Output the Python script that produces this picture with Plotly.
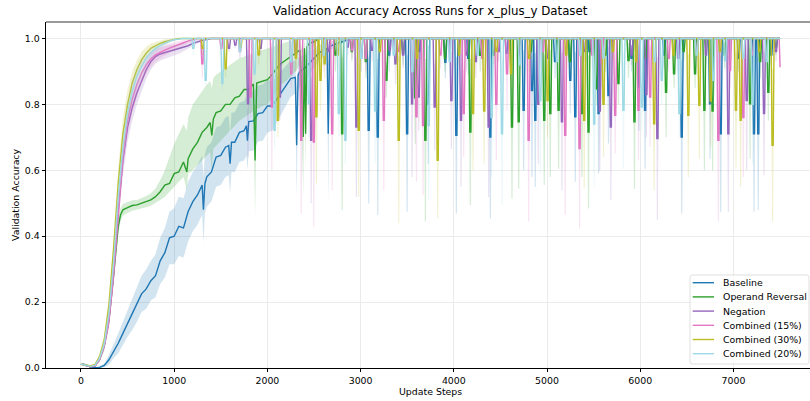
import plotly.graph_objects as go

# ---------------------------------------------------------------- figure geometry
FIG_W, FIG_H = 810, 401
MARGIN = dict(l=46, r=0, t=22, b=33)
X_RANGE = [-375, 7821]
Y_RANGE = [0.0, 1.05]
LAST_STEP = 7500
SPIKE_RAMP = 10   # steps spent falling / recovering
SPIKE_FLAT = 12   # steps spent at the bottom of a collapse

X_TICKS = [0, 1000, 2000, 3000, 4000, 5000, 6000, 7000]
Y_TICKS = [0.0, 0.2, 0.4, 0.6, 0.8, 1.0]
Y_TICK_TEXT = ["0.0", "0.2", "0.4", "0.6", "0.8", "1.0"]

TITLE = "Validation Accuracy Across Runs for x_plus_y Dataset"
X_LABEL = "Update Steps"
Y_LABEL = "Validation Accuracy"

SERIES_NAMES = ["Baseline", "Operand Reversal", "Negation",
                "Combined (15%)", "Combined (30%)", "Combined (20%)"]
SERIES_COLORS = ["#1f77b4", "#2ca02c", "#9467bd", "#e377c2", "#bcbd22", "#9edae5"]

# ---------------------------------------------------------------- Baseline
baseline_steps = [0, 50, 100, 150, 200, 250, 300, 350, 400, 450,
                  500, 550, 600, 650, 700, 750, 800, 850, 900, 950,
                  1000, 1050, 1100, 1150, 1200, 1250, 1300, 1314, 1330, 1350,
                  1400, 1450, 1500, 1550, 1585, 1600, 1615, 1650, 1700, 1750,
                  1775, 1786, 1800, 1850, 1900, 1950, 2000, 2050, 2100, 2150,
                  2200, 2250, 2300, 2314, 2330, 2350, 2400, 2450, 2500, 2550,
                  2600, 2640, 2653, 2668, 2700, 2750, 2800, 2850, 2900]
baseline_mean = [0.012, 0.010, 0.003, 0.001, 0.002, 0.008, 0.025, 0.050, 0.075, 0.105,
                 0.135, 0.160, 0.190, 0.225, 0.240, 0.265, 0.280, 0.325, 0.350, 0.395,
                 0.400, 0.430, 0.425, 0.475, 0.505, 0.525, 0.555, 0.480, 0.560, 0.580,
                 0.595, 0.640, 0.645, 0.670, 0.675, 0.620, 0.685, 0.685, 0.715, 0.720,
                 0.735, 0.690, 0.748, 0.750, 0.772, 0.775, 0.795, 0.795, 0.815, 0.835,
                 0.855, 0.878, 0.882, 0.676, 0.890, 0.900, 0.910, 0.925, 0.940, 0.955,
                 0.965, 0.970, 0.711, 0.975, 0.980, 0.985, 0.990, 0.995, 1.000]
baseline_std = [0.003, 0.003, 0.002, 0.002, 0.003, 0.006, 0.015, 0.020, 0.030, 0.035,
                0.040, 0.045, 0.050, 0.055, 0.060, 0.060, 0.065, 0.070, 0.075, 0.080,
                0.085, 0.090, 0.090, 0.090, 0.090, 0.090, 0.090, 0.100, 0.090, 0.090,
                0.090, 0.090, 0.090, 0.090, 0.090, 0.090, 0.090, 0.090, 0.090, 0.090,
                0.090, 0.090, 0.090, 0.090, 0.085, 0.085, 0.080, 0.075, 0.070, 0.065,
                0.060, 0.055, 0.050, 0.160, 0.050, 0.045, 0.040, 0.035, 0.030, 0.025,
                0.020, 0.018, 0.210, 0.015, 0.012, 0.010, 0.006, 0.003, 0.000]
baseline_spike_steps = [3081, 3178, 3300, 3493, 3620, 3720, 3903, 4021, 4150, 4386,
                        4560, 4743, 4832, 4868, 5080, 5243, 5297, 5450, 5547, 5653,
                        5900, 5980, 6046, 6250, 6439, 6600, 6743, 6857, 7050, 7214,
                        7260, 7400]
baseline_spike_mean = [0.721, 0.701, 0.950, 0.711, 0.960, 0.800, 0.928, 0.706, 0.940, 0.701,
                       0.955, 0.782, 0.842, 0.752, 0.930, 0.873, 0.762, 0.960, 0.772, 0.827,
                       0.940, 0.850, 0.782, 0.950, 0.701, 0.965, 0.802, 0.711, 0.940, 0.711,
                       0.711, 0.950]
baseline_spike_low = [0.499, 0.464, 0.900, 0.474, 0.920, 0.620, 0.880, 0.469, 0.890, 0.454,
                      0.920, 0.600, 0.580, 0.549, 0.880, 0.772, 0.565, 0.930, 0.590, 0.681,
                      0.900, 0.720, 0.605, 0.910, 0.469, 0.940, 0.635, 0.474, 0.900, 0.474,
                      0.479, 0.920]

# ---------------------------------------------------------------- Operand Reversal
reversal_steps = [0, 50, 100, 150, 200, 250, 300, 350, 400, 425,
                  450, 500, 550, 600, 650, 700, 750, 800, 850, 900,
                  950, 1000, 1050, 1100, 1136, 1150, 1200, 1250, 1300, 1350,
                  1386, 1404, 1420, 1450, 1500, 1550, 1600, 1650, 1700, 1750,
                  1800, 1850, 1868, 1885, 1950, 2000, 2050, 2100, 2150, 2200,
                  2250, 2300, 2350, 2385, 2397, 2410, 2425, 2450, 2500, 2550]
reversal_mean = [0.012, 0.009, 0.004, 0.006, 0.026, 0.068, 0.145, 0.280, 0.430, 0.465,
                 0.480, 0.487, 0.493, 0.495, 0.500, 0.505, 0.510, 0.520, 0.535, 0.555,
                 0.560, 0.590, 0.595, 0.625, 0.595, 0.635, 0.665, 0.685, 0.715, 0.730,
                 0.745, 0.706, 0.755, 0.775, 0.780, 0.800, 0.800, 0.820, 0.825, 0.845,
                 0.845, 0.862, 0.630, 0.865, 0.870, 0.875, 0.890, 0.910, 0.925, 0.935,
                 0.945, 0.955, 0.965, 0.701, 0.970, 0.711, 0.975, 0.985, 0.990, 1.000]
reversal_low = [0.009, 0.006, 0.002, 0.003, 0.018, 0.052, 0.125, 0.255, 0.405, 0.445,
                0.462, 0.470, 0.477, 0.480, 0.485, 0.488, 0.492, 0.500, 0.510, 0.520,
                0.535, 0.550, 0.565, 0.580, 0.540, 0.590, 0.600, 0.615, 0.630, 0.645,
                0.655, 0.600, 0.665, 0.675, 0.690, 0.705, 0.720, 0.735, 0.750, 0.760,
                0.770, 0.780, 0.460, 0.785, 0.795, 0.800, 0.820, 0.840, 0.860, 0.870,
                0.885, 0.900, 0.920, 0.519, 0.930, 0.600, 0.945, 0.960, 0.975, 1.000]
reversal_high = [0.015, 0.012, 0.006, 0.009, 0.034, 0.084, 0.165, 0.305, 0.455, 0.485,
                 0.498, 0.504, 0.509, 0.510, 0.515, 0.522, 0.530, 0.545, 0.570, 0.600,
                 0.640, 0.680, 0.710, 0.740, 0.720, 0.760, 0.800, 0.820, 0.840, 0.860,
                 0.870, 0.850, 0.880, 0.890, 0.900, 0.910, 0.920, 0.930, 0.940, 0.945,
                 0.950, 0.955, 0.900, 0.960, 0.965, 0.970, 0.975, 0.980, 0.985, 0.990,
                 0.993, 0.996, 0.998, 0.950, 0.999, 0.960, 1.000, 1.000, 1.000, 1.000]
reversal_spike_steps = [2724, 2796, 2900, 3050, 3271, 3450, 3580, 3689, 3900, 4171,
                        4278, 4420, 4618, 4690, 4820, 4964, 5029, 5118, 5240, 5368,
                        5439, 5521, 5620, 5760, 5868, 5932, 6050, 6271, 6357, 6460,
                        6582, 6682, 6770, 6900, 7172, 7280, 7368, 7450]
reversal_spike_mean = [0.950, 0.711, 0.960, 0.930, 0.873, 0.955, 0.820, 0.691, 0.940, 0.716,
                       0.949, 0.950, 0.731, 0.747, 0.960, 0.752, 0.772, 0.782, 0.930, 0.772,
                       0.716, 0.847, 0.950, 0.863, 0.933, 0.747, 0.940, 0.837, 0.893, 0.960,
                       0.893, 0.782, 0.780, 0.950, 0.802, 0.930, 0.837, 0.974]
reversal_spike_low = [0.900, 0.479, 0.930, 0.880, 0.820, 0.920, 0.680, 0.444, 0.900, 0.494,
                      0.900, 0.920, 0.514, 0.544, 0.930, 0.555, 0.580, 0.605, 0.890, 0.580,
                      0.484, 0.800, 0.900, 0.800, 0.880, 0.544, 0.910, 0.700, 0.850, 0.930,
                      0.850, 0.600, 0.600, 0.910, 0.635, 0.880, 0.750, 0.950]

# ---------------------------------------------------------------- Negation
negation_steps = [0, 50, 100, 150, 200, 250, 300, 350, 400, 450,
                  500, 550, 600, 650, 700, 750, 800, 850, 900, 950,
                  1000, 1050, 1100, 1150, 1200, 1250, 1300, 1350, 1400]
negation_mean = [0.012, 0.009, 0.004, 0.006, 0.027, 0.070, 0.150, 0.290, 0.480, 0.630,
                 0.730, 0.790, 0.835, 0.870, 0.905, 0.930, 0.945, 0.953, 0.957, 0.962,
                 0.965, 0.968, 0.973, 0.978, 0.985, 0.990, 0.994, 0.997, 1.000]
negation_std = [0.003, 0.003, 0.002, 0.002, 0.006, 0.012, 0.020, 0.030, 0.040, 0.045,
                0.045, 0.040, 0.035, 0.030, 0.028, 0.025, 0.022, 0.020, 0.020, 0.018,
                0.016, 0.014, 0.012, 0.010, 0.008, 0.006, 0.004, 0.002, 0.000]
negation_spike_steps = [1582, 1650, 1786, 1921, 2128, 2300, 2464, 2650, 2856, 2949,
                        3000, 3117, 3307, 3368, 3450, 3546, 3618, 3789, 3968, 4071,
                        4128, 4230, 4368, 4475, 4700, 4900, 5000, 5154, 5400, 5560,
                        5678, 5900, 6060, 6178, 6400, 6700, 6939, 7136, 7322, 7450]
negation_spike_mean = [0.970, 0.980, 0.802, 0.970, 0.822, 0.950, 0.691, 0.960, 0.974, 0.731,
                       0.940, 0.964, 0.964, 0.923, 0.950, 0.802, 0.822, 0.792, 0.812, 0.752,
                       0.950, 0.930, 0.731, 0.960, 0.950, 0.800, 0.940, 0.747, 0.960, 0.780,
                       0.731, 0.950, 0.830, 0.696, 0.940, 0.950, 0.711, 0.812, 0.772, 0.960]
negation_spike_low = [0.960, 0.970, 0.640, 0.950, 0.750, 0.900, 0.500, 0.920, 0.950, 0.519,
                      0.900, 0.930, 0.940, 0.860, 0.910, 0.580, 0.720, 0.660, 0.665, 0.549,
                      0.900, 0.880, 0.519, 0.930, 0.920, 0.620, 0.900, 0.539, 0.930, 0.600,
                      0.509, 0.920, 0.700, 0.449, 0.900, 0.920, 0.474, 0.600, 0.585, 0.930]

# ---------------------------------------------------------------- Combined (15%)
comb15_steps = [0, 50, 100, 150, 200, 250, 300, 350, 400, 450,
                500, 550, 600, 650, 700, 750, 800, 850, 900, 950,
                1000, 1050, 1100, 1150, 1200, 1250]
comb15_mean = [0.012, 0.009, 0.004, 0.006, 0.025, 0.066, 0.140, 0.280, 0.470, 0.640,
               0.750, 0.815, 0.860, 0.895, 0.920, 0.938, 0.950, 0.958, 0.965, 0.971,
               0.977, 0.982, 0.987, 0.992, 0.996, 1.000]
comb15_std = [0.003, 0.003, 0.002, 0.002, 0.006, 0.012, 0.020, 0.030, 0.040, 0.045,
              0.045, 0.040, 0.038, 0.032, 0.028, 0.024, 0.020, 0.018, 0.016, 0.014,
              0.012, 0.010, 0.008, 0.006, 0.004, 0.000]
comb15_spike_steps = [1296, 1500, 1700, 1814, 2042, 2250, 2357, 2492, 2600, 2689,
                      2903, 3050, 3243, 3400, 3593, 3664, 3850, 4100, 4300, 4450,
                      4565, 4797, 4950, 5189, 5343, 5480, 5582, 5725, 5975, 6100,
                      6300, 6600, 6832, 6957, 7100, 7200, 7500]
comb15_spike_mean = [0.923, 0.970, 0.960, 0.822, 0.792, 0.893, 0.691, 0.686, 0.950, 0.711,
                     0.964, 0.940, 0.752, 0.960, 0.762, 0.736, 0.950, 0.772, 0.940, 0.800,
                     0.893, 0.691, 0.960, 0.706, 0.666, 0.950, 0.923, 0.767, 0.782, 0.822,
                     0.940, 0.960, 0.691, 0.903, 0.760, 0.950, 0.913]
comb15_spike_low = [0.880, 0.950, 0.940, 0.760, 0.600, 0.850, 0.469, 0.428, 0.900, 0.539,
                    0.940, 0.900, 0.539, 0.930, 0.565, 0.524, 0.910, 0.640, 0.900, 0.630,
                    0.780, 0.444, 0.930, 0.464, 0.423, 0.910, 0.853, 0.651, 0.630, 0.671,
                    0.900, 0.930, 0.444, 0.850, 0.580, 0.910, 0.853]

# ---------------------------------------------------------------- Combined (30%)
comb30_steps = [0, 50, 100, 150, 200, 250, 300, 350, 400, 450,
                500, 550, 600, 650, 700, 750, 800, 850, 900, 950,
                1000, 1050]
comb30_mean = [0.012, 0.010, 0.006, 0.010, 0.035, 0.085, 0.190, 0.360, 0.560, 0.710,
               0.800, 0.865, 0.905, 0.935, 0.955, 0.970, 0.978, 0.985, 0.990, 0.994,
               0.997, 1.000]
comb30_std = [0.003, 0.003, 0.003, 0.004, 0.010, 0.020, 0.030, 0.040, 0.050, 0.050,
              0.045, 0.035, 0.030, 0.025, 0.020, 0.015, 0.012, 0.010, 0.008, 0.005,
              0.003, 0.000]
comb30_spike_steps = [1300, 1546, 1707, 1900, 2107, 2300, 2520, 2564, 2608, 2750,
                      2974, 3200, 3403, 3600, 3821, 4050, 4200, 4320, 4450, 4607,
                      4800, 5000, 5200, 5393, 5600, 5700, 5950, 6143, 6350, 6510,
                      6628, 6750, 6850, 7021, 7071, 7272, 7414]
comb30_spike_mean = [0.970, 0.908, 0.974, 0.950, 0.752, 0.940, 0.762, 0.873, 0.923, 0.950,
                     0.721, 0.960, 0.691, 0.940, 0.630, 0.950, 0.772, 0.780, 0.960, 0.893,
                     0.940, 0.812, 0.950, 0.752, 0.800, 0.960, 0.930, 0.741, 0.950, 0.767,
                     0.797, 0.810, 0.960, 0.782, 0.752, 0.960, 0.676]
comb30_spike_low = [0.950, 0.880, 0.960, 0.920, 0.700, 0.900, 0.560, 0.780, 0.880, 0.910,
                    0.519, 0.930, 0.439, 0.900, 0.454, 0.920, 0.600, 0.620, 0.930, 0.850,
                    0.900, 0.700, 0.910, 0.544, 0.640, 0.930, 0.880, 0.539, 0.920, 0.580,
                    0.635, 0.670, 0.930, 0.605, 0.549, 0.930, 0.444]

# ---------------------------------------------------------------- Combined (20%)
comb20_steps = [0, 50, 100, 150, 200, 250, 300, 350, 400, 450,
                500, 550, 600, 650, 700, 750, 800, 850, 900, 950,
                1000, 1050, 1100]
comb20_mean = [0.012, 0.009, 0.005, 0.008, 0.030, 0.075, 0.165, 0.320, 0.520, 0.670,
               0.775, 0.840, 0.885, 0.915, 0.940, 0.957, 0.970, 0.978, 0.986, 0.992,
               0.996, 0.998, 1.000]
comb20_std = [0.003, 0.003, 0.002, 0.003, 0.008, 0.015, 0.025, 0.035, 0.045, 0.045,
              0.040, 0.035, 0.030, 0.025, 0.020, 0.015, 0.012, 0.010, 0.008, 0.005,
              0.003, 0.002, 0.000]
comb20_spike_steps = [1200, 1332, 1511, 1700, 1857, 2071, 2250, 2439, 2600, 2760,
                      2831, 3000, 3150, 3350, 3550, 3725, 3950, 4250, 4400, 4511,
                      4700, 4922, 5100, 5350, 5500, 5600, 5814, 6010, 6150, 6225,
                      6414, 6600, 6779, 6904, 7100, 7200, 7350]
comb20_spike_mean = [0.970, 0.873, 0.863, 0.960, 0.893, 0.721, 0.930, 0.802, 0.950, 0.772,
                     0.691, 0.940, 0.780, 0.950, 0.900, 0.736, 0.930, 0.950, 0.760, 0.711,
                     0.920, 0.812, 0.930, 0.950, 0.740, 0.940, 0.782, 0.792, 0.930, 0.873,
                     0.772, 0.950, 0.873, 0.933, 0.940, 0.800, 0.930]
comb20_spike_low = [0.950, 0.860, 0.840, 0.940, 0.800, 0.671, 0.900, 0.700, 0.920, 0.700,
                    0.620, 0.900, 0.620, 0.920, 0.850, 0.509, 0.880, 0.920, 0.580, 0.494,
                    0.860, 0.590, 0.880, 0.920, 0.550, 0.900, 0.605, 0.721, 0.900, 0.800,
                    0.700, 0.920, 0.800, 0.900, 0.900, 0.620, 0.880]


def sym_band(mean, std):
    return ([m - s for m, s in zip(mean, std)], [m + s for m, s in zip(mean, std)])


def assemble(steps, mean, low, high, sp_steps, sp_mean, sp_low):
    """Join the learning curve with the collapse spikes on the 1.0 plateau."""
    assert len(steps) == len(mean) == len(low) == len(high)
    assert len(sp_steps) == len(sp_mean) == len(sp_low)
    xs, ys, lo, hi = list(steps), list(mean), list(low), list(high)
    for s, v, l in sorted(zip(sp_steps, sp_mean, sp_low)):
        u = min(1.0, 2 * v - l)
        if s >= LAST_STEP:
            xs += [s - SPIKE_RAMP, s]
            ys += [1.0, v]
            lo += [1.0, l]
            hi += [1.0, u]
        else:
            xs += [s - SPIKE_RAMP, s, s + SPIKE_FLAT, s + SPIKE_FLAT + SPIKE_RAMP]
            ys += [1.0, v, v, 1.0]
            lo += [1.0, l, l, 1.0]
            hi += [1.0, u, u, 1.0]
    if xs[-1] < LAST_STEP:
        xs.append(LAST_STEP)
        ys.append(1.0)
        lo.append(1.0)
        hi.append(1.0)
    return xs, ys, lo, hi


series = [
    assemble(baseline_steps, baseline_mean, *sym_band(baseline_mean, baseline_std),
             baseline_spike_steps, baseline_spike_mean, baseline_spike_low),
    assemble(reversal_steps, reversal_mean, reversal_low, reversal_high,
             reversal_spike_steps, reversal_spike_mean, reversal_spike_low),
    assemble(negation_steps, negation_mean, *sym_band(negation_mean, negation_std),
             negation_spike_steps, negation_spike_mean, negation_spike_low),
    assemble(comb15_steps, comb15_mean, *sym_band(comb15_mean, comb15_std),
             comb15_spike_steps, comb15_spike_mean, comb15_spike_low),
    assemble(comb30_steps, comb30_mean, *sym_band(comb30_mean, comb30_std),
             comb30_spike_steps, comb30_spike_mean, comb30_spike_low),
    assemble(comb20_steps, comb20_mean, *sym_band(comb20_mean, comb20_std),
             comb20_spike_steps, comb20_spike_mean, comb20_spike_low),
]


def rgba(hex_color, alpha):
    h = hex_color.lstrip("#")
    r, g, b = int(h[0:2], 16), int(h[2:4], 16), int(h[4:6], 16)
    return f"rgba({r},{g},{b},{alpha})"


fig = go.Figure()
for name, color, (xs, ys, lo, hi) in zip(SERIES_NAMES, SERIES_COLORS, series):
    fig.add_trace(go.Scatter(x=xs, y=ys, mode="lines", name=name,
                             line=dict(color=color, width=1.4), showlegend=False,
                             hoverinfo="skip"))
    fig.add_trace(go.Scatter(x=xs + xs[::-1], y=hi + lo[::-1], mode="lines",
                             fill="toself", fillcolor=rgba(color, 0.2),
                             line=dict(width=0), showlegend=False, hoverinfo="skip"))

# ---------------------------------------------------------------- layout helpers
plot_w = FIG_W - MARGIN["l"] - MARGIN["r"]
plot_h = FIG_H - MARGIN["t"] - MARGIN["b"]


def px_x(px):
    return (px - MARGIN["l"]) / plot_w


def px_y(py):
    return (FIG_H - MARGIN["b"] - py) / plot_h


FONT = "DejaVu Sans"
TEXT_COLOR = "#000000"
TICK_SIZE = 9.4

fig.update_layout(
    width=FIG_W, height=FIG_H, margin=MARGIN,
    paper_bgcolor="white", plot_bgcolor="white", showlegend=False,
    font=dict(family=FONT, size=TICK_SIZE, color=TEXT_COLOR),
)
axis_common = dict(
    showgrid=True, gridcolor="#ebebeb", gridwidth=0.8, zeroline=False,
    showline=True, linecolor="#000000", linewidth=0.8,
    ticks="outside", ticklen=3.5, tickwidth=0.8, tickcolor="#000000",
    tickfont=dict(family=FONT, size=TICK_SIZE, color=TEXT_COLOR),
)
fig.update_xaxes(range=X_RANGE, tickvals=X_TICKS, ticktext=[str(t) for t in X_TICKS],
                 **axis_common)
fig.update_yaxes(range=Y_RANGE, tickvals=Y_TICKS, ticktext=Y_TICK_TEXT, **axis_common)

# top spine (the right one falls outside the canvas)
fig.add_shape(type="line", xref="paper", yref="paper", x0=0, x1=1, y0=1, y1=1,
              line=dict(color="#000000", width=0.8))

axes_center_x = px_x((45.7 + 815.7) / 2)
fig.add_annotation(text=TITLE, xref="paper", yref="paper", x=axes_center_x, y=px_y(11),
                   showarrow=False, xanchor="center", yanchor="middle",
                   font=dict(family=FONT, size=11.8, color=TEXT_COLOR))
fig.add_annotation(text=X_LABEL, xref="paper", yref="paper", x=axes_center_x, y=px_y(391),
                   showarrow=False, xanchor="center", yanchor="middle",
                   font=dict(family=FONT, size=TICK_SIZE, color=TEXT_COLOR))
fig.add_annotation(text=Y_LABEL, xref="paper", yref="paper", x=px_x(15), y=px_y(195),
                   showarrow=False, xanchor="center", yanchor="middle", textangle=-90,
                   font=dict(family=FONT, size=TICK_SIZE, color=TEXT_COLOR))

# ---------------------------------------------------------------- legend
LEG_X0, LEG_X1, LEG_Y0, LEG_Y1 = 690, 809, 275, 364
r = 2.5
path = (f"M {px_x(LEG_X0 + r)},{px_y(LEG_Y0)} L {px_x(LEG_X1 - r)},{px_y(LEG_Y0)} "
        f"Q {px_x(LEG_X1)},{px_y(LEG_Y0)} {px_x(LEG_X1)},{px_y(LEG_Y0 + r)} "
        f"L {px_x(LEG_X1)},{px_y(LEG_Y1 - r)} "
        f"Q {px_x(LEG_X1)},{px_y(LEG_Y1)} {px_x(LEG_X1 - r)},{px_y(LEG_Y1)} "
        f"L {px_x(LEG_X0 + r)},{px_y(LEG_Y1)} "
        f"Q {px_x(LEG_X0)},{px_y(LEG_Y1)} {px_x(LEG_X0)},{px_y(LEG_Y1 - r)} "
        f"L {px_x(LEG_X0)},{px_y(LEG_Y0 + r)} "
        f"Q {px_x(LEG_X0)},{px_y(LEG_Y0)} {px_x(LEG_X0 + r)},{px_y(LEG_Y0)} Z")
fig.add_shape(type="path", xref="paper", yref="paper", path=path,
              fillcolor="rgba(255,255,255,0.8)", line=dict(color="rgba(204,204,204,0.8)", width=0.8))
for i, (name, color) in enumerate(zip(SERIES_NAMES, SERIES_COLORS)):
    yc = 282.7 + i * 14.2
    fig.add_shape(type="line", xref="paper", yref="paper",
                  x0=px_x(692.7), x1=px_x(714), y0=px_y(yc), y1=px_y(yc),
                  line=dict(color=color, width=1.4))
    fig.add_annotation(text=name, xref="paper", yref="paper", x=px_x(720.5), y=px_y(yc),
                       showarrow=False, xanchor="left", yanchor="middle",
                       font=dict(family=FONT, size=TICK_SIZE, color=TEXT_COLOR))

fig.write_html("out.html")
